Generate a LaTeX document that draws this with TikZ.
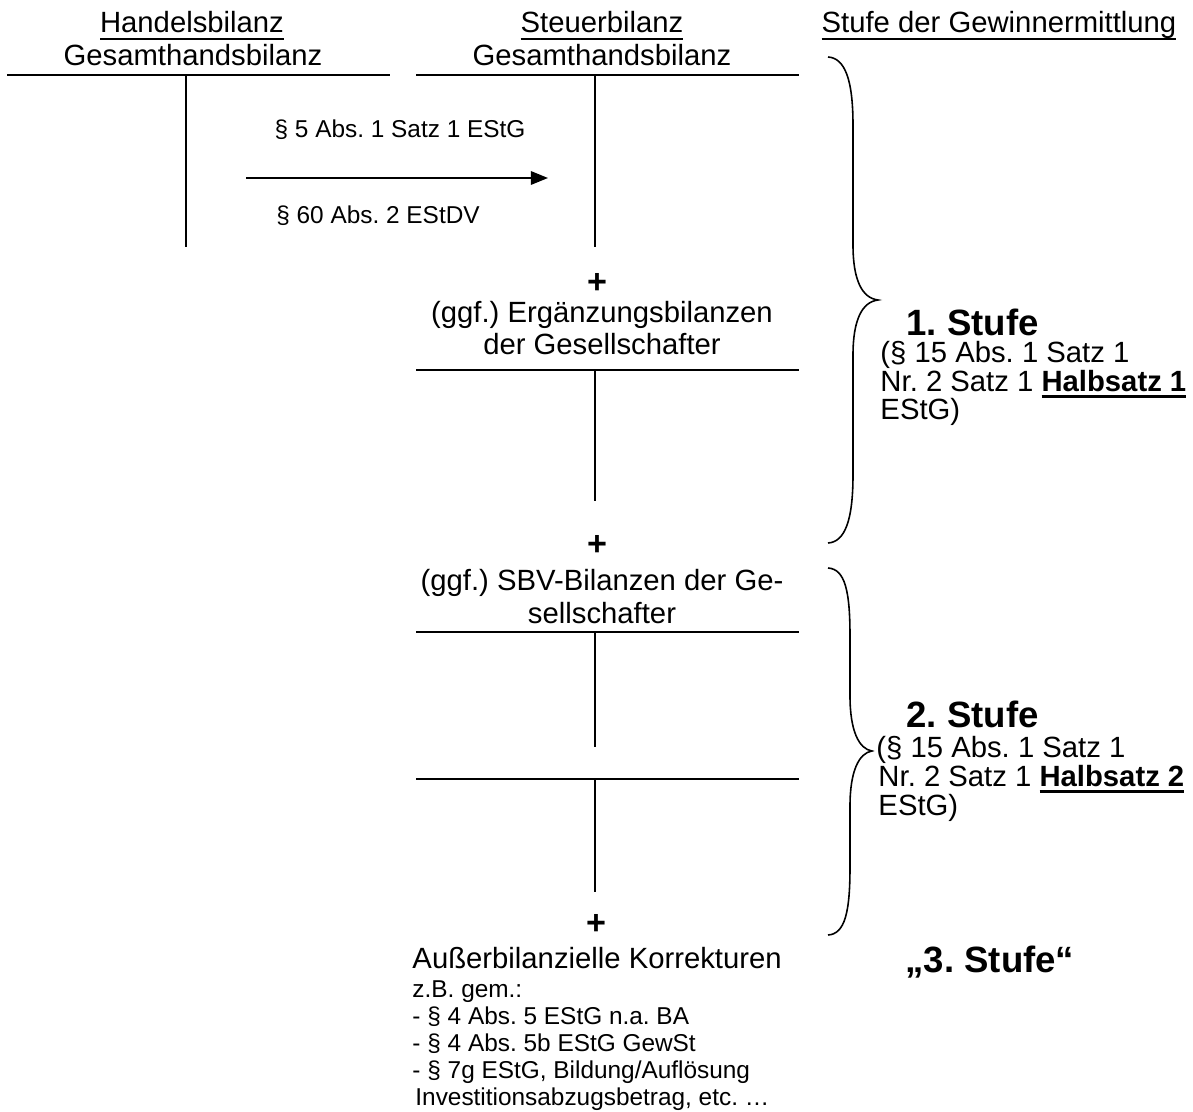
\documentclass[tikz,border=0pt]{standalone}
\usepackage{fontspec}
\setmainfont{Liberation Sans}
\frenchspacing
\usetikzlibrary{arrows.meta}
\tikzset{txt/.style={font=\fontsize{12}{14}\selectfont, inner sep=0pt, anchor=base}}
\tikzset{klein/.style={font=\fontsize{10}{12}\selectfont, inner sep=0pt, anchor=base west}}
\tikzset{stufe/.style={font=\fontsize{15}{18}\selectfont\bfseries, inner sep=0pt, anchor=base west}}
\tikzset{plus/.style={font=\fontsize{14}{16}\selectfont\bfseries, inner sep=0pt}}
\tikzset{konto/.style={draw, line width=0.8pt}}
\tikzset{pfeil/.style={draw, line width=0.8pt, -{Triangle[length=7pt, width=5.5pt]}}}
\tikzset{klammer/.style={draw, line width=0.65pt}}
\newcommand\ustr[2][0.8pt]{\setbox0=\hbox{#2}\rlap{\rule[-3pt]{\wd0}{#1}}\box0}
% T-Konto: Name, x links, x rechts, x Mitte, y oben, y unten
\newcommand\tkonto[6]{
		\coordinate (#1-l) at (#2,#5);
		\coordinate (#1-r) at (#3,#5);
		\coordinate (#1-o) at (#4,#5);
		\coordinate (#1-u) at (#4,#6);
		\draw[konto] (#1-l) -- (#1-r);
		\draw[konto] (#1-o) -- (#1-u);
	}
% geschweifte Klammer: x Ende, x Schaft, x Spitze, y oben, y Mitte, y unten
\newcommand\gklammer[6]{
		\draw[klammer] (#1,#4) .. controls (#1+17,#4+1) and (#2,#4+23) .. (#2,#4+68)
			-- (#2,#5-55) .. controls (#2,#5-20) and (#2+9,#5-2) .. (#3,#5)
			.. controls (#2+9,#5+2) and (#2,#5+20) .. (#2,#5+55)
			-- (#2,#6-68) .. controls (#2,#6-23) and (#1+17,#6-1) .. (#1,#6);
	}

\begin{document}
\begin{tikzpicture}[x=0.41pt, y=-0.41pt]
			\useasboundingbox (0,0) rectangle (1193,1112);

			% Kopfzeile
			\node[txt] (hb-titel) at (192,33) {\ustr{Handelsbilanz}};
			\node[txt] (hb-name) at (193,66) {Gesamthandsbilanz};
			\node[txt] (sb-titel) at (602,33) {\ustr{Steuerbilanz}};
			\node[txt] (sb-name) at (602,66) {Gesamthandsbilanz};
			\node[txt] (stufen-titel) at (999,33) {\ustr{Stufe der Gewinnermittlung}};

			\tkonto{hb}{7}{390}{186}{75}{247}
			\tkonto{sb}{416}{799}{595}{75}{247}

			% Maßgeblichkeit
			\coordinate (pf-a) at (246,178);
			\coordinate (pf-b) at (548,178);
			\draw[pfeil] (pf-a) -- (pf-b);
			\node[klein, anchor=base] (norm-estg) at (400,138) {§ 5 Abs. 1 Satz 1 EStG};
			\node[klein, anchor=base] (norm-estdv) at (378,224) {§ 60 Abs. 2 EStDV};

			\node[plus] (plus1) at (597,283) {+};
			\node[txt] (erg-1) at (602,322) {(ggf.) Ergänzungsbilanzen};
			\node[txt] (erg-2) at (602,355) {der Gesellschafter};
			\tkonto{erg}{416}{799}{595}{370}{501}

			\node[plus] (plus2) at (597,545) {+};
			\node[txt] (sbv-1) at (602,590) {(ggf.) SBV-Bilanzen der Ge-};
			\node[txt] (sbv-2) at (602,623) {sellschafter};
			\tkonto{sbv}{416}{799}{595}{632}{747}
			\tkonto{sbvb}{416}{799}{595}{779}{892}

			\node[plus] (plus3) at (596,924) {+};
			\node[txt, anchor=base west] (korr) at (412,968) {Außerbilanzielle Korrekturen};
			\foreach \zeile [count=\i] in {z.B. gem.:, - § 4 Abs. 5 EStG n.a. BA, - § 4 Abs. 5b EStG GewSt, {- § 7g EStG, Bildung/Auflösung}, {\hspace*{1.2pt}Investitionsabzugsbetrag, etc. …}}
				\node[klein] (korr-\i) at (412,970+27*\i) {\zeile};

			% Stufen
			\gklammer{828}{853}{878}{57}{300}{543}
			\node[stufe] (stufe1) at (906,335) {1. Stufe};
			\node[txt, anchor=base west] (st1-a) at (880,363) {(§ 15 Abs. 1 Satz 1};
			\node[txt, anchor=base west] (st1-b) at (880,391) {Nr. 2 Satz 1 \ustr[1.2pt]{\bfseries Halbsatz 1}};
			\node[txt, anchor=base west] (st1-c) at (880,419) {EStG)};

			\gklammer{828}{850}{872}{568}{751}{935}
			\node[stufe] (stufe2) at (906,727) {2. Stufe};
			\node[txt, anchor=base west] (st2-a) at (876,757) {(§ 15 Abs. 1 Satz 1};
			\node[txt, anchor=base west] (st2-b) at (878,786) {Nr. 2 Satz 1 \ustr[1.2pt]{\bfseries Halbsatz 2}};
			\node[txt, anchor=base west] (st2-c) at (878,815) {EStG)};

			\node[stufe] (stufe3) at (905,972) {„3. Stufe“};
		\end{tikzpicture}
\end{document}
